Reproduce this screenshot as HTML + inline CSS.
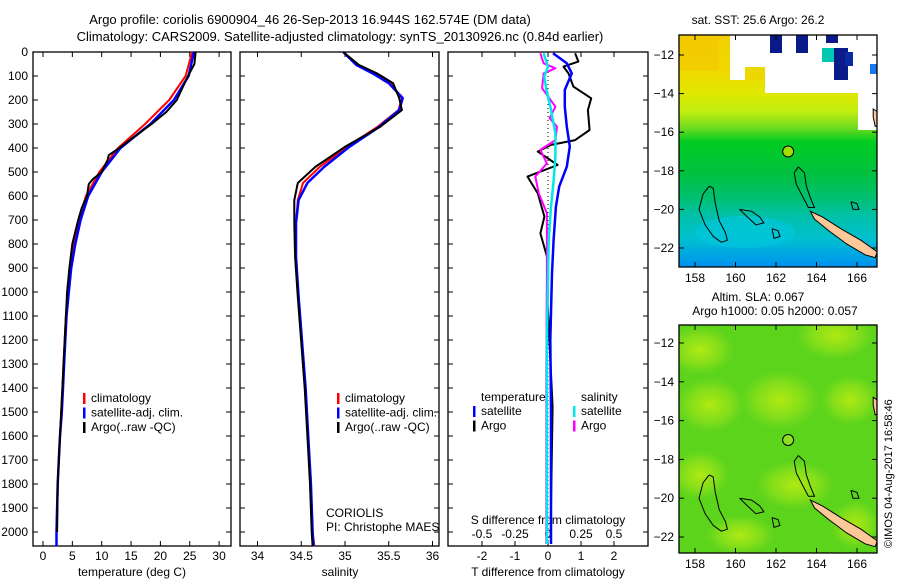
<!DOCTYPE html>
<html><head><meta charset="utf-8"><style>
body{margin:0;background:#fff;width:900px;height:580px;overflow:hidden}
svg{display:block}
text{font-family:"Liberation Sans",sans-serif;font-size:12px;fill:#000}
</style></head><body>
<svg id="chart" width="900" height="580" viewBox="0 0 900 580" xmlns="http://www.w3.org/2000/svg">
<text x="310" y="24" text-anchor="middle" style="font-size:13px">Argo profile: coriolis 6900904_46 26-Sep-2013 16.944S 162.574E (DM data)</text>
<text x="340" y="41" text-anchor="middle" style="font-size:13px">Climatology: CARS2009. Satellite-adjusted climatology: synTS_20130926.nc (0.84d earlier)</text>
<g id="p1"></g>
<g id="p2"></g>
<g id="p3"></g>
<g id="m1"></g>
<g id="m2"></g>
<text transform="translate(892,548) rotate(-90)" style="font-size:11px">©IMOS 04-Aug-2017 16:58:46</text>
</svg>
<script>
// ---- data ----
const tClimDepth=[0,100,200,300,400,500,600,700,800,900,1000,1100,1200,1300,1400,1500,1600,1700,1800,1900,2000,2060];
const tClim=[25.4,24.3,21.5,17.4,12.8,9.6,7.3,6.1,5.2,4.6,4.2,3.9,3.7,3.5,3.3,3.1,2.9,2.7,2.5,2.4,2.3,2.3];
const tSat=[25.7,24.8,22.3,18.3,13.2,10.0,7.7,6.4,5.5,4.8,4.4,4.0,3.8,3.6,3.4,3.2,2.9,2.7,2.5,2.4,2.3,2.3];
const tArgoDepth=[0,50,100,200,250,300,350,400,430,450,500,530,550,600,650,700,800,900,1000,1200,1400,1600,1800,2000];
const tArgo=[26.0,25.8,24.7,22.8,21.0,18.5,15.7,13.0,11.2,11.0,10.0,8.5,7.8,7.5,6.6,6.0,5.0,4.5,4.1,3.7,3.3,2.9,2.5,2.4];
const sDepth=[0,54,88,130,192,242,312,395,479,546,617,713,854,1020,1400,1600,1800,2000,2060];
const sClim=[34.98,35.15,35.33,35.52,35.65,35.61,35.37,35.02,34.71,34.52,34.46,34.44,34.44,34.47,34.55,34.58,34.61,34.63,34.65];
const sSat=[34.98,35.13,35.31,35.50,35.66,35.62,35.39,35.05,34.76,34.57,34.47,34.44,34.44,34.47,34.55,34.58,34.61,34.63,34.64];
const sArgo=[34.98,35.16,35.36,35.55,35.62,35.65,35.40,35.00,34.66,34.46,34.42,34.42,34.43,34.46,34.54,34.57,34.60,34.62,34.63];
const dTSatDepth=[5,47,89,158,228,311,394,478,561,645,783,922,1200,1478,1894,2050];
const dTSat=[0.15,0.57,0.72,0.51,0.51,0.57,0.66,0.57,0.34,0.24,0.17,0.12,0.07,0.09,0.09,0.09];
const dTArgoDepth=[5,40,61,89,144,193,242,325,367,387,415,471,519,589,686,756,853,992,1478,1894,2050];
const dTArgo=[0.82,0.92,0.47,0.62,0.77,1.31,1.21,1.26,0.82,0.09,-0.31,0.29,-0.62,-0.31,-0.11,-0.23,-0.03,-0.03,0.14,0.09,0.09];
const dSSatDepth=[5,61,103,158,228,339,436,533,645,783,1200,1894,2050];
const dSSat=[-0.033,0,-0.028,-0.012,0.018,0.056,0.056,0.043,0.023,0.005,-0.008,-0.008,-0.008];
const dSArgoDepth=[5,47,68,89,151,228,276,311,367,408,464,519,589,672,922,1339,1894,2050];
const dSArgo=[-0.058,-0.033,0.056,-0.033,-0.045,0.056,0.013,0.068,0.056,-0.058,-0.008,-0.096,-0.07,-0.008,-0.008,-0.013,-0.013,-0.013];
const depthTicks=[0,100,200,300,400,500,600,700,800,900,1000,1100,1200,1300,1400,1500,1600,1700,1800,1900,2000];
const tTicks=[0,5,10,15,20,25,30];
const sTicks=[34,34.5,35,35.5,36];
const dtTicks=[-2,-1,0,1,2];
const dsTicks=[-0.5,-0.25,0,0.25,0.5];
const latTicks=[-12,-14,-16,-18,-20,-22];
const lonTicks=[158,160,162,164,166];

const NS="http://www.w3.org/2000/svg";
function mk(parent,tag,attrs,txt){const e=document.createElementNS(NS,tag);for(const k in attrs)e.setAttribute(k,attrs[k]);if(txt!==undefined)e.textContent=txt;parent.appendChild(e);return e;}
const TOP=52,BOT=546;
const yD=d=>TOP+d*0.24;

function frame(g,x0,x1){
  const r=mk(g,'rect',{x:x0,y:TOP,width:x1-x0,height:BOT-TOP,fill:'none',stroke:'#000','stroke-width':1.3});
  
  
}
function xTicks(g,ticks,sx,labelY,fmt){
  ticks.forEach(t=>{const x=sx(t);
    mk(g,'line',{x1:x,x2:x,y1:BOT,y2:BOT-5,stroke:'#000'});
    mk(g,'line',{x1:x,x2:x,y1:TOP,y2:TOP+5,stroke:'#000'});
    const l=mk(g,'text',{x:x,y:labelY,'text-anchor':'middle'},fmt?fmt(t):String(t));
    
    
  });
}
function line(g,xs,ds,sx,color,w,name){
  const pts=xs.map((v,i)=>sx(v).toFixed(1)+','+yD(ds[i]).toFixed(1)).join(' ');
  const p=mk(g,'polyline',{points:pts,fill:'none',stroke:color,'stroke-width':w,'stroke-linejoin':'round'});
  
  
}
function legend(g,x,y,items){
  items.forEach((it,i)=>{
    mk(g,'rect',{x:x,y:y+i*14.5-9,width:2.5,height:11,fill:it[1]});
    const t=mk(g,'text',{x:x+8,y:y+i*14.5},it[0]);
    
    
  });
}
// Panel 1
const p1=document.getElementById('p1');
const sxT=v=>43+v*5.87;
frame(p1,33,231);
depthTicks.forEach(d=>{const y=yD(d);
  mk(p1,'line',{x1:33,x2:38,y1:y,y2:y,stroke:'#000'});mk(p1,'line',{x1:231,x2:226,y1:y,y2:y,stroke:'#000'});
  mk(p1,'line',{x1:240,x2:245,y1:y,y2:y,stroke:'#000'});mk(p1,'line',{x1:439,x2:434,y1:y,y2:y,stroke:'#000'});
  mk(p1,'line',{x1:448,x2:453,y1:y,y2:y,stroke:'#000'});mk(p1,'line',{x1:648,x2:643,y1:y,y2:y,stroke:'#000'});
  const l=mk(p1,'text',{x:28,y:y+4,'text-anchor':'end'},String(d));
  
  
});
xTicks(p1,tTicks,sxT,560);
mk(p1,'text',{x:132,y:576,'text-anchor':'middle'},'temperature (deg C)');
line(p1,tClim,tClimDepth,sxT,'#ff0000',2,'temp-climatology-line');
line(p1,tSat,tClimDepth,sxT,'#0000ff',2.5,'temp-satellite-line');
line(p1,tArgo,tArgoDepth,sxT,'#000',2,'temp-argo-line');
legend(p1,83,402,[['climatology','#f00'],['satellite-adj. clim.','#00f'],['Argo(..raw -QC)','#000']]);
// Panel 2
const p2=document.getElementById('p2');
const sxS=v=>257.5+(v-34)*87.5;
frame(p2,240,439);
xTicks(p2,sTicks,sxS,560);
mk(p2,'text',{x:340,y:576,'text-anchor':'middle'},'salinity');
line(p2,sClim,sDepth,sxS,'#ff0000',2,'sal-climatology-line');
line(p2,sSat,sDepth,sxS,'#0000ff',2.5,'sal-satellite-line');
line(p2,sArgo,sDepth,sxS,'#000',2,'sal-argo-line');
legend(p2,337,402,[['climatology','#f00'],['satellite-adj. clim.','#00f'],['Argo(..raw -QC)','#000']]);
mk(p2,'text',{x:326,y:517},'CORIOLIS');
mk(p2,'text',{x:326,y:531},'PI: Christophe MAES');
// Panel 3
const p3=document.getElementById('p3');
const sxDT=v=>548+v*33, sxDS=v=>548+v*132;
frame(p3,448,648);
xTicks(p3,dtTicks,sxDT,560);
dsTicks.forEach(t=>{const l=mk(p3,'text',{x:sxDS(t),y:538,'text-anchor':'middle'},String(t));});
mk(p3,'text',{x:548,y:524,'text-anchor':'middle'},'S difference from climatology');
mk(p3,'text',{x:548,y:576,'text-anchor':'middle'},'T difference from climatology');
mk(p3,'line',{x1:548,x2:548,y1:TOP,y2:BOT,stroke:'#000','stroke-dasharray':'1,3'});
line(p3,dTArgo,dTArgoDepth,sxDT,'#000',2,'tdiff-argo-line');
line(p3,dTSat,dTSatDepth,sxDT,'#0000ff',2.5,'tdiff-satellite-line');
line(p3,dSArgo,dSArgoDepth,sxDS,'#ff00ff',2,'sdiff-argo-line');
line(p3,dSSat,dSSatDepth,sxDS,'#00e8e8',2.5,'sdiff-satellite-line');
mk(p3,'text',{x:481,y:401},'temperature');
mk(p3,'text',{x:581,y:401},'salinity');
legend(p3,473,415,[['satellite','#00f'],['Argo','#000']]);
legend(p3,573,415,[['satellite','#00e8e8'],['Argo','#f0f']]);
// Maps
const lx=lon=>695+(lon-158)*20.25;
function mapFrame(g,top,bot,ly,id){
  const defs=mk(g,'defs',{});
  const cp=mk(defs,'clipPath',{id:'c'+id});mk(cp,'rect',{x:679,y:top,width:198,height:bot-top});
  const inner=mk(g,'g',{'clip-path':'url(#c'+id+')'});
  mk(g,'rect',{x:679,y:top,width:198,height:bot-top,fill:'none',stroke:'#000','stroke-width':1.3});
  latTicks.forEach(t=>{const y=ly(t);mk(g,'line',{x1:679,x2:684,y1:y,y2:y,stroke:'#000'});mk(g,'line',{x1:877,x2:872,y1:y,y2:y,stroke:'#000'});
    const l=mk(g,'text',{x:674,y:y+4,'text-anchor':'end'},String(t).replace('-','\u2212'));});
  lonTicks.forEach(t=>{const x=lx(t);mk(g,'line',{x1:x,x2:x,y1:bot,y2:bot-5,stroke:'#000'});mk(g,'line',{x1:x,x2:x,y1:top,y2:top+5,stroke:'#000'});
    const l=mk(g,'text',{x:x,y:bot+15,'text-anchor':'middle'},String(t));});
  return inner;
}
function land(g,ly){
  const poly=(pts,fill)=>mk(g,'polygon',{points:pts.map(p=>lx(p[0]).toFixed(1)+','+ly(p[1]).toFixed(1)).join(' '),fill:fill,stroke:'#000','stroke-width':1});
  poly([[163.7,-20.1],[164.3,-20.4],[165.2,-21.0],[166.2,-21.6],[167.0,-22.2],[166.9,-22.5],[166.4,-22.35],[165.5,-21.8],[164.6,-21.1],[163.9,-20.5]],'#fdc898');
  poly([[166.8,-14.8],[167.1,-15.0],[167.2,-15.6],[166.9,-15.7],[166.8,-15.2]],'#fdc898');
  poly([[167.2,-15.9],[167.5,-16.2],[167.6,-16.5],[167.3,-16.5],[167.1,-16.2]],'#fdc898');
  poly([[167.8,-15.4],[168,-15.6],[167.9,-15.8]],'#fdc898');
  const out=(pts)=>mk(g,'polyline',{points:pts.map(p=>lx(p[0]).toFixed(1)+','+ly(p[1]).toFixed(1)).join(' '),fill:'none',stroke:'#000','stroke-width':1});
  out([[158.7,-18.8],[158.9,-18.9],[159.0,-19.7],[159.2,-20.6],[159.5,-21.2],[159.6,-21.6],[159.3,-21.7],[158.9,-21.4],[158.5,-20.8],[158.2,-20.0],[158.4,-19.2],[158.7,-18.8]]);
  out([[163.1,-17.8],[163.4,-18.1],[163.5,-18.8],[163.7,-19.4],[163.9,-19.9],[163.6,-19.9],[163.3,-19.3],[163.0,-18.7],[162.9,-18.1],[163.1,-17.8]]);
  out([[160.2,-20.0],[160.8,-20.1],[161.2,-20.4],[161.4,-20.7],[161.0,-20.8],[160.6,-20.4],[160.2,-20.0]]);
  out([[161.8,-21.0],[162.1,-21.1],[162.2,-21.4],[161.9,-21.5],[161.8,-21.0]]);
  out([[165.7,-19.6],[166.0,-19.7],[166.1,-20.0],[165.8,-20.0],[165.7,-19.6]]);
}
// Map 1
const m1=document.getElementById('m1');
const ly1=lat=>55+(-12-lat)*19.3;
mk(m1,'text',{x:758,y:24,'text-anchor':'middle'},'sat. SST: 25.6 Argo: 26.2');
const g1=mapFrame(m1,35,267,ly1,1);
const d1=mk(g1,'defs',{});const lg=mk(d1,'linearGradient',{id:'sstg',x1:0,y1:0,x2:0,y2:1});
[[0,'#f2d000'],[0.15,'#f0d800'],[0.25,'#e0e800'],[0.33,'#c0ee10'],[0.4,'#70dc20'],[0.46,'#00cc20'],[0.6,'#00c040'],[0.7,'#00c070'],[0.78,'#00c0a8'],[0.88,'#00c0d0'],[1,'#0090f0']].forEach(s=>mk(lg,'stop',{offset:s[0],'stop-color':s[1]}));
mk(g1,'rect',{x:679,y:35,width:198,height:232,fill:'url(#sstg)'});
mk(g1,'rect',{x:679,y:35,width:40,height:35,fill:'#f4c400',opacity:0.5});
mk(g1,'ellipse',{cx:745,cy:232,rx:50,ry:16,fill:'#00c8e0',opacity:0.6});
mk(g1,'polygon',{points:'730,35 877,35 877,130 858,130 858,93 765,93 765,67 745,67 745,80 730,80',fill:'#fff'});
mk(g1,'rect',{x:745,y:67,width:20,height:13,fill:'#ecd800'});
[[770,35,12,18],[796,35,12,18],[826,35,12,8],[834,48,14,32],[845,52,8,14],[822,48,12,14],[870,64,7,10]].forEach((b,i)=>mk(g1,'rect',{x:b[0],y:b[1],width:b[2],height:b[3],fill:i==4?'#0a2aa0':(i==5?'#00c8b0':(i==6?'#1878f0':'#0a1a88'))}));
land(g1,ly1);
mk(m1,'circle',{cx:lx(162.6),cy:ly1(-17),r:5.5,fill:'#a0e000',stroke:'#000'});
// Map 2
const m2=document.getElementById('m2');
const ly2=lat=>343+(-12-lat)*19.4;
mk(m2,'text',{x:758,y:301,'text-anchor':'middle'},'Altim. SLA: 0.067');
mk(m2,'text',{x:775,y:315,'text-anchor':'middle'},'Argo h1000: 0.05 h2000: 0.057');
const g2=mapFrame(m2,325,553,ly2,2);
const d2=mk(g2,'defs',{});const rg=mk(d2,'radialGradient',{id:'yb'});
mk(rg,'stop',{offset:0,'stop-color':'#c8ee10','stop-opacity':0.8});mk(rg,'stop',{offset:0.6,'stop-color':'#a8e818','stop-opacity':0.5});mk(rg,'stop',{offset:1,'stop-color':'#90e020','stop-opacity':0});
mk(g2,'rect',{x:679,y:325,width:198,height:228,fill:'#5cd41c'});
[[700,350,35,25],[835,335,40,25],[710,405,35,28],[780,400,40,30],[850,400,30,25],[700,475,30,25],[795,485,40,25],[740,535,35,20],[855,525,25,25]].forEach(b=>mk(g2,'ellipse',{cx:b[0],cy:b[1],rx:b[2],ry:b[3],fill:'url(#yb)'}));
land(g2,ly2);
mk(m2,'circle',{cx:lx(162.6),cy:ly2(-17),r:5.5,fill:'#8ee020',stroke:'#000'});
</script>
</body></html>
